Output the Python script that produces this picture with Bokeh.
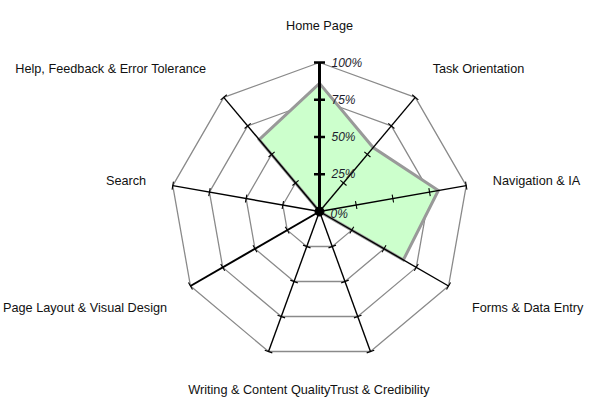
import numpy as np
from bokeh.plotting import figure
from bokeh.models import Range1d, ColumnDataSource
from bokeh.embed import file_html
from bokeh.resources import INLINE
from bokeh.core.properties import value

# ---- data ----
categories = ["Home Page", "Task Orientation", "Navigation & IA", "Forms & Data Entry",
              "Trust & Credibility", "Writing & Content Quality",
              "Page Layout & Visual Design", "Search", "Help, Feedback & Error Tolerance"]
scores = [86, 56, 81, 65, 0, 0, 0, 0, 63]
ring_levels = [25, 50, 75, 100]
ring_labels = ["25%", "50%", "75%", "100%"]
zero_label = "0%"

# ---- layout constants ----
CX, CY, R = 319, 204, 149
LBL_RX, LBL_RY = 176, 188
FONT = "Liberation Sans"

n = len(categories)
ang = np.deg2rad(90 - 360.0 / n * np.arange(n))
cosA, sinA = np.cos(ang), np.sin(ang)

p = figure(width=600, height=415, x_range=Range1d(0, 600), y_range=Range1d(0, 415),
           output_backend="svg", toolbar_location=None, min_border=0)
p.axis.visible = False
p.grid.visible = False
p.outline_line_color = None
p.background_fill_color = "white"

# rings
rx, ry = [], []
for lv in ring_levels:
    r = R * lv / 100.0
    rx.append(list(CX + r * cosA) + [CX + r * cosA[0]])
    ry.append(list(CY + r * sinA) + [CY + r * sinA[0]])
p.multi_line(rx, ry, line_color="#8a8a8a", line_width=1.3)

# data polygon
sc = np.array(scores) / 100.0
p.patch(CX + R * sc * cosA, CY + R * sc * sinA, fill_color="#ccffcc",
        line_color="#999999", line_width=3, line_join="miter")

# axes
widths = [3 if i == 0 else 1.4 for i in range(n)]
widths[6] = 2.0
p.segment(x0=[CX] * n, y0=[CY] * n, x1=CX + R * cosA, y1=CY + R * sinA,
          line_color="black", line_width=widths)

# ticks
tx0, ty0, tx1, ty1, tw = [], [], [], [], []
for i in range(n):
    half = 5.5 if i == 0 else 4
    px, py = -sinA[i], cosA[i]
    for lv in ring_levels:
        r = R * lv / 100.0
        x, y = CX + r * cosA[i], CY + r * sinA[i]
        tx0.append(x - half * px); ty0.append(y - half * py)
        tx1.append(x + half * px); ty1.append(y + half * py)
        tw.append(2.5 if i == 0 else 1.1)
p.segment(x0=tx0, y0=ty0, x1=tx1, y1=ty1, line_color="black", line_width=tw)

# center dot
p.scatter([CX], [CY], size=9, color="black")

# value labels
p.text(x=[CX + 12] * len(ring_levels), y=[CY + R * lv / 100.0 for lv in ring_levels],
       text=ring_labels, text_font=value(FONT), text_font_size="12px",
       text_font_style="italic", text_color="#1c1c2c", text_baseline="middle", text_align="left")
p.text(x=[CX + 11], y=[CY - 2], text=[zero_label], text_font=value(FONT),
       text_font_size="12px", text_font_style="italic", text_color="#1c1c2c",
       text_baseline="middle", text_align="left")

# category labels
aligns = ["left" if c > 0.5 else ("right" if c < -0.5 else "center") for c in cosA]
src = ColumnDataSource(dict(x=CX + LBL_RX * cosA, y=CY + LBL_RY * sinA - 2,
                            t=categories, a=aligns))
p.text(x="x", y="y", text="t", text_align="a", source=src, text_font=value(FONT),
       text_font_size="12.7px", text_color="#111111", text_baseline="middle")

open("out.html", "w").write(file_html(p, INLINE))
